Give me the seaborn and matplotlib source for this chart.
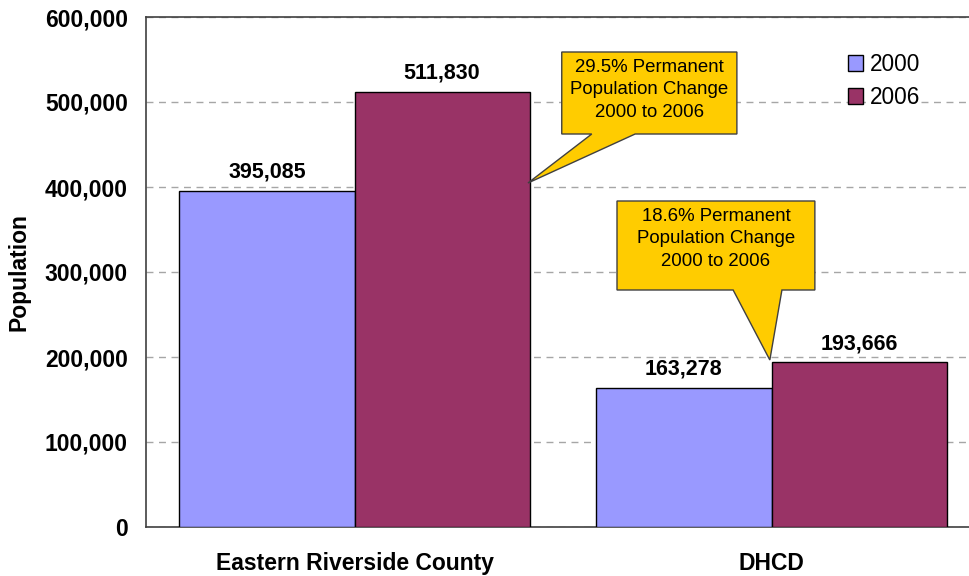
import matplotlib
matplotlib.use("Agg")
import matplotlib.pyplot as plt
from matplotlib.patches import Polygon, Patch
from matplotlib.ticker import FuncFormatter
import seaborn as sns
import pandas as pd

regions = ["Eastern Riverside County", "DHCD"]
years = ["2000", "2006"]
pop_2000 = [395085, 163278]
pop_2006 = [511830, 193666]
callouts = ["29.5% Permanent\nPopulation Change\n2000 to 2006",
            "18.6% Permanent\nPopulation Change\n2000 to 2006"]

df = pd.DataFrame({
    "Region": regions * 2,
    "Year": [years[0]] * 2 + [years[1]] * 2,
    "Population": pop_2000 + pop_2006,
})

sns.set_theme(style="white")
plt.rcParams["font.family"] = ["Liberation Sans", "DejaVu Sans"]
plt.rcParams["text.color"] = "black"
plt.rcParams["xtick.color"] = "black"
plt.rcParams["ytick.color"] = "black"
plt.rcParams["axes.labelcolor"] = "black"

fig = plt.figure(figsize=(9.69, 5.76), dpi=100)
ax = fig.add_axes([146 / 969, 49 / 576, 834 / 969, 510 / 576])

palette = {"2000": "#9999FF", "2006": "#993366"}
sns.barplot(data=df, x="Region", y="Population", hue="Year", order=regions,
            hue_order=years, palette=palette, width=0.84, gap=0,
            edgecolor="black", linewidth=1.0, saturation=1, ax=ax, legend=False,
            zorder=3)

ax.set_xlim(-0.5, 1.5)
ax.set_ylim(0, 600000)
ax.set_yticks(range(0, 600001, 100000))
ax.yaxis.set_major_formatter(FuncFormatter(lambda v, p: f"{int(v):,}"))
ax.grid(axis="y", color="#a6a6a6", linestyle=(0, (5, 4)), linewidth=1.0, zorder=0)
ax.tick_params(axis="y", length=0, pad=13, labelsize=16.5)
for lbl in ax.get_yticklabels():
    lbl.set_fontweight("bold")

# category boundaries as tick marks, names centred between them
ax.set_xticks([-0.5, 0.5, 1.5])
ax.set_xticklabels([])
ax.tick_params(axis="x", which="major", length=7, width=1.2, color="black", direction="out")
ax.set_xticks([0, 1], minor=True)
ax.set_xticklabels(regions, minor=True, fontsize=16.5, fontweight="bold")
ax.tick_params(axis="x", which="minor", length=0, pad=18)
ax.set_xlabel("")
ax.set_ylabel("Population", fontsize=16.5, fontweight="bold", labelpad=10)

for side in ["left", "bottom", "top", "right"]:
    ax.spines[side].set_color("#404040")
    ax.spines[side].set_linewidth(1.2)
    ax.spines[side].set_visible(True)

# value labels above the bars
for cont in ax.containers:
    ax.bar_label(cont, labels=[f"{int(v):,}" for v in cont.datavalues],
                 padding=6, fontsize=15.5, fontweight="bold")

# legend
handles = [Patch(facecolor=palette[y], edgecolor="black", linewidth=1.0, label=y) for y in years]
ax.legend(handles=handles, loc="upper left", bbox_to_anchor=(848 / 969, 1 - 53 / 576),
          bbox_transform=fig.transFigure, frameon=False, fontsize=16.3,
          handlelength=0.68, handleheight=0.68, handletextpad=0.3,
          labelspacing=0.45, borderaxespad=0, borderpad=0)


def callout(box, base, tip, text, fs):
    x0, x1, y0, y1 = box
    b0, b1 = base
    pts = [(x0, y1), (x1, y1), (x1, y0), (b1, y0), tip, (b0, y0), (x0, y0)]
    ax.add_patch(Polygon(pts, closed=True, facecolor="#FFCC00", edgecolor="#404040",
                         linewidth=1.0, zorder=5, clip_on=False))
    ax.annotate(text, xy=((x0 + x1) / 2, y1), xytext=(0, -5), textcoords="offset points",
                ha="center", va="top", fontsize=fs, linespacing=1.42, zorder=6)


callout((0.497, 0.917, 462353, 558824), (0.569, 0.673), (0.416, 404706), callouts[0], 13.4)
callout((0.6295, 1.104, 278824, 383529), (0.908, 1.025), (0.996, 196471), callouts[1], 13.4)

fig.savefig("out.png", dpi=100)
